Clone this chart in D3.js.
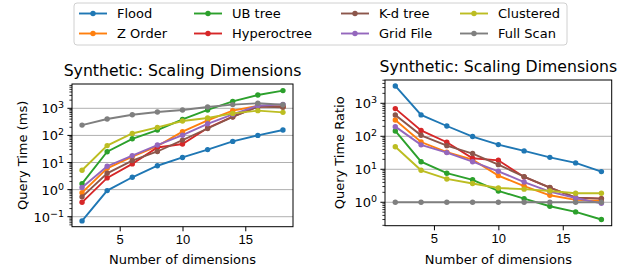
<!DOCTYPE html>
<html>
<head>
<meta charset="utf-8">
<script src="https://cdn.jsdelivr.net/npm/d3@7"></script>
<style>
  body { margin: 0; background: #fff; }
  svg { font-family: "DejaVu Sans", sans-serif; }
  .tick_label { font-size: 13px; fill: #000; }
  .axis_title { font-size: 13px; fill: #000; }
  .chart_title { font-size: 15.7px; fill: #000; }
  .legend_text { font-size: 13px; fill: #000; }
</style>
</head>
<body>
<div id="chart"></div>
<script>

// number of dimensions (x axis)
const dims = [2, 4, 6, 8, 10, 12, 14, 16, 18];

// legend order / series names
const methods = ["Flood", "Z Order", "UB tree", "Hyperoctree", "K-d tree", "Grid File", "Clustered", "Full Scan"];
const colors = ["#1f77b4", "#ff7f0e", "#2ca02c", "#d62728", "#8c564b", "#9467bd", "#bcbd22", "#7f7f7f"];

// left chart: query time (ms)
const floodTime = [0.07, 0.92, 2.85, 7.6, 15.4, 30, 60, 100, 158];
const zOrderTime = [0.77, 6.1, 16.5, 40, 137, 360, 820, 1220, 1150];
const ubTreeTime = [1.66, 25, 75, 158, 390, 870, 1810, 3100, 4500];
const hyperTime = [0.34, 2.7, 8.9, 36, 48, 188, 490, 1180, 1150];
const kdTime = [0.54, 4.0, 11.8, 25.5, 67, 180, 480, 1150, 1090];
const gridTime = [1.19, 7.3, 18, 44, 102, 268, 600, 1250, 1400];
const clusteredTime = [5.2, 42, 118, 198, 340, 440, 650, 820, 710];
const fullScanTime = [240, 403, 580, 730, 870, 1120, 1370, 1530, 1350];

// right chart: query time ratio
const floodRatio = [3350, 445, 205, 98, 56, 36, 23, 15.6, 8.5];
const zOrderRatio = [310, 67, 33, 19.6, 6.4, 3.1, 1.63, 1.18, 1.1];
const ubTreeRatio = [145, 17, 7.6, 4.8, 2.2, 1.29, 0.76, 0.51, 0.30];
const hyperRatio = [690, 150, 66, 21.5, 18.7, 5.85, 2.78, 1.38, 1.29];
const kdRatio = [445, 107, 52, 30, 13.8, 6.0, 2.8, 1.38, 1.29];
const gridRatio = [196, 55, 32, 17, 8.7, 4.1, 2.1, 1.35, 0.93];
const clusteredRatio = [48, 9.3, 5.1, 3.7, 2.7, 2.5, 2.2, 1.87, 1.87];
const fullScanRatio = [1, 1, 1, 1, 1, 1, 1, 1, 1];

const xTicks = [5, 10, 15];

const timeSeries = [floodTime, zOrderTime, ubTreeTime, hyperTime, kdTime, gridTime, clusteredTime, fullScanTime];
const ratioSeries = [floodRatio, zOrderRatio, ubTreeRatio, hyperRatio, kdRatio, gridRatio, clusteredRatio, fullScanRatio];

const svg = d3.select("#chart")
  .append("svg")
  .attr("width", 639)
  .attr("height", 273);

draw_panel({
  left: 72, right: 293, top: 84, bottom: 226.7,
  yDomain: [0.0428, 7890],
  yTicks: [-1, 0, 1, 2, 3],
  series: timeSeries,
  yLabel: "Query Time (ms)",
  yLabelX: 22
});

draw_panel({
  left: 385, right: 611.7, top: 80, bottom: 225.7,
  yDomain: [0.195, 5080],
  yTicks: [0, 1, 2, 3],
  series: ratioSeries,
  yLabel: "Query Time Ratio",
  yLabelX: 339
});

draw_legend();

function draw_panel(p) {
  let g = svg.append("g");

  let x_scale = d3.scaleLinear().domain([1.2, 18.8]).range([p.left, p.right]);
  let y_scale = d3.scaleLog().domain(p.yDomain).range([p.bottom, p.top]);

  // horizontal grid on major decades
  g.selectAll(".grid")
    .data(p.yTicks)
    .enter()
    .append("line")
    .attr("x1", p.left).attr("x2", p.right)
    .attr("y1", d => y_scale(Math.pow(10, d)))
    .attr("y2", d => y_scale(Math.pow(10, d)))
    .attr("stroke", "#b0b0b0")
    .attr("stroke-width", 1);

  // lines + markers
  let line = d3.line()
    .x((d, i) => x_scale(dims[i]))
    .y(d => y_scale(d));

  let clip_id = "clip" + p.left;
  svg.append("clipPath").attr("id", clip_id)
    .append("rect")
    .attr("x", p.left).attr("y", p.top)
    .attr("width", p.right - p.left).attr("height", p.bottom - p.top);

  let plot = g.append("g").attr("clip-path", "url(#" + clip_id + ")");

  p.series.forEach((vals, k) => {
    plot.append("path")
      .datum(vals)
      .attr("d", line)
      .attr("fill", "none")
      .attr("stroke", colors[k])
      .attr("stroke-width", 1.9);
    plot.selectAll(".pt" + k)
      .data(vals)
      .enter()
      .append("circle")
      .attr("cx", (d, i) => x_scale(dims[i]))
      .attr("cy", d => y_scale(d))
      .attr("r", 2.7)
      .attr("fill", colors[k]);
  });

  // frame
  g.append("rect")
    .attr("x", p.left).attr("y", p.top)
    .attr("width", p.right - p.left).attr("height", p.bottom - p.top)
    .attr("fill", "none")
    .attr("stroke", "#000")
    .attr("stroke-width", 1);

  // x axis ticks
  let x_axis = d3.axisBottom(x_scale)
    .tickValues(xTicks)
    .tickSize(4.6)
    .tickPadding(3.5);
  let xg = g.append("g")
    .attr("transform", "translate(0," + p.bottom + ")")
    .call(x_axis);
  xg.select(".domain").remove();
  xg.selectAll("text")
    .attr("class", "tick_label")
    .attr("font-family", null)
    .attr("font-size", null);

  // y major ticks
  let lo = Math.floor(Math.log10(p.yDomain[0]));
  let hi = Math.ceil(Math.log10(p.yDomain[1]));
  let minor = [];
  for (let e = lo; e <= hi; e++) {
    for (let m = 2; m <= 9; m++) {
      let v = m * Math.pow(10, e);
      if (v >= p.yDomain[0] && v <= p.yDomain[1]) minor.push(v);
    }
  }
  g.selectAll(".minor")
    .data(minor)
    .enter()
    .append("line")
    .attr("x1", p.left).attr("x2", p.left - 2.6)
    .attr("y1", d => y_scale(d)).attr("y2", d => y_scale(d))
    .attr("stroke", "#000").attr("stroke-width", 0.8);

  g.selectAll(".major")
    .data(p.yTicks)
    .enter()
    .append("line")
    .attr("x1", p.left).attr("x2", p.left - 4.6)
    .attr("y1", d => y_scale(Math.pow(10, d))).attr("y2", d => y_scale(Math.pow(10, d)))
    .attr("stroke", "#000").attr("stroke-width", 1);

  let labels = g.selectAll(".ylab")
    .data(p.yTicks)
    .enter()
    .append("text")
    .attr("class", "tick_label")
    .attr("text-anchor", "end")
    .attr("x", p.left - 8)
    .attr("y", d => y_scale(Math.pow(10, d)) + 5);
  labels.append("tspan").text("10");
  labels.append("tspan")
    .attr("dy", -5)
    .attr("font-size", 9.5)
    .text(d => d < 0 ? "\u2212" + (-d) : d);

  // axis titles
  g.append("text")
    .attr("class", "axis_title")
    .attr("text-anchor", "middle")
    .attr("x", (p.left + p.right) / 2)
    .attr("y", 264)
    .text("Number of dimensions");

  g.append("text")
    .attr("class", "axis_title")
    .attr("text-anchor", "middle")
    .attr("transform", "translate(" + p.yLabelX + "," + ((p.top + p.bottom) / 2) + ") rotate(-90)")
    .attr("dy", "0.35em")
    .text(p.yLabel);

  g.append("text")
    .attr("class", "chart_title")
    .attr("text-anchor", "middle")
    .attr("x", (p.left + p.right) / 2)
    .attr("y", p.top - 8)
    .text("Synthetic: Scaling Dimensions");
}

function draw_legend() {
  let lg = svg.append("g");

  lg.append("rect")
    .attr("x", 74).attr("y", 3)
    .attr("width", 493).attr("height", 42)
    .attr("rx", 3)
    .attr("fill", "#fff")
    .attr("stroke", "#d0d0d0")
    .attr("stroke-width", 1);

  let colX = [79, 194, 341, 460];
  let rowY = [13.5, 33.5];

  methods.forEach((name, k) => {
    let cx = colX[Math.floor(k / 2)];
    let cy = rowY[k % 2];
    lg.append("line")
      .attr("x1", cx).attr("x2", cx + 28)
      .attr("y1", cy).attr("y2", cy)
      .attr("stroke", colors[k])
      .attr("stroke-width", 1.9);
    lg.append("circle")
      .attr("cx", cx + 14).attr("cy", cy)
      .attr("r", 2.7)
      .attr("fill", colors[k]);
    lg.append("text")
      .attr("class", "legend_text")
      .attr("x", cx + 38)
      .attr("y", cy + 4.7)
      .text(name);
  });
}
</script>
</body>
</html>
